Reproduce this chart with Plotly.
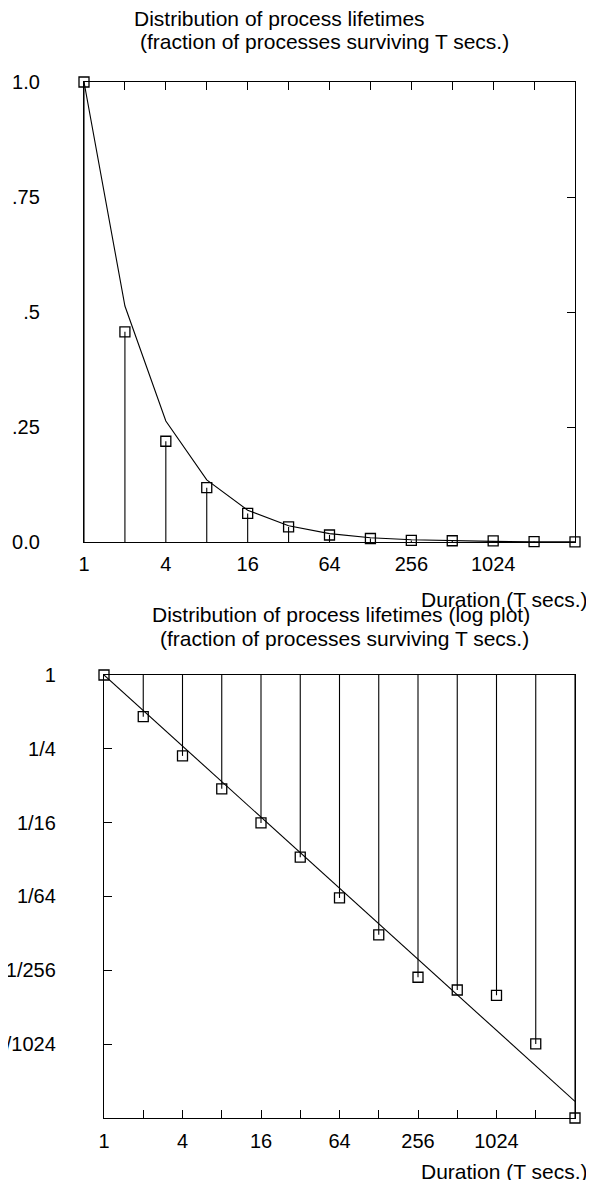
import math
import plotly.graph_objects as go

# ---- data ----
durations = [1, 2, 4, 8, 16, 32, 64, 128, 256, 512, 1024, 2048, 4096]
surviving = [1.0, 0.457, 0.219, 0.118, 0.0622, 0.0327, 0.0152, 0.0076,
             0.00343, 0.0027, 0.00244, 0.00098, 0.000244]
fit_curve = [1.0, 0.513, 0.263, 0.135, 0.0692, 0.0355, 0.0182, 0.00935,
             0.0048, 0.00246, 0.00126, 0.000648, 0.000333]

x_tick_vals = [1, 4, 16, 64, 256, 1024]
x_tick_text = ["1", "4", "16", "64", "256", "1024"]
lin_tick_vals = [0, 0.25, 0.5, 0.75, 1.0]
lin_tick_text = ["0.0", ".25", ".5", ".75", "1.0"]
lin_inner_ticks = [0.25, 0.5, 0.75]
log_tick_vals = [1, 1 / 4, 1 / 16, 1 / 64, 1 / 256, 1 / 1024]
log_tick_text = ["1", "1/4", "1/16", "1/64", "1/256", "1/1024"]

title_top = ["Distribution of process lifetimes",
             "(fraction of processes surviving T secs.)"]
title_bottom = ["Distribution of process lifetimes (log plot)",
                "(fraction of processes surviving T secs.)"]
x_title = "Duration (T secs.)"

FONT = "Liberation Sans, Arial, Helvetica, sans-serif"
OFF = 8                      # the page body has an 8px margin
W, H = 594 - OFF, 1180 - OFF
BLACK = "#000000"


def px(x):
    return (x - OFF) / W


def py(y):
    return 1 - (y - OFF) / H


# impulse segments built from the data lists
top_ix, top_iy, bot_ix, bot_iy = [], [], [], []
for d, v in zip(durations, surviving):
    top_ix += [d, d, None]
    top_iy += [0, v, None]
    bot_ix += [d, d, None]
    bot_iy += [1, v, None]

fig = go.Figure()
line_style = dict(color=BLACK, width=1.1)
marker_style = dict(symbol="square-open", size=10, color=BLACK,
                    line=dict(color=BLACK, width=1.3))

# top (linear) chart
fig.add_trace(go.Scatter(x=top_ix, y=top_iy, mode="lines", line=line_style,
                         xaxis="x", yaxis="y", cliponaxis=False, hoverinfo="skip"))
fig.add_trace(go.Scatter(x=durations, y=fit_curve, mode="lines", line=line_style,
                         xaxis="x3", yaxis="y3", cliponaxis=False))
fig.add_trace(go.Scatter(x=durations, y=surviving, mode="markers", marker=marker_style,
                         xaxis="x", yaxis="y", cliponaxis=False))
# bottom (log) chart
fig.add_trace(go.Scatter(x=bot_ix, y=bot_iy, mode="lines", line=line_style,
                         xaxis="x2", yaxis="y2", cliponaxis=False, hoverinfo="skip"))
fig.add_trace(go.Scatter(x=[durations[0], durations[-1]], y=[fit_curve[0], fit_curve[-1]],
                         mode="lines", line=line_style,
                         xaxis="x4", yaxis="y4", cliponaxis=False))
fig.add_trace(go.Scatter(x=durations, y=surviving, mode="markers", marker=marker_style,
                         xaxis="x2", yaxis="y2", cliponaxis=False))

xr = [0, math.log10(durations[-1])]
yr_log = [math.log10(surviving[-1]), 0]
tickfont = dict(family=FONT, size=20, color=BLACK)
axis_common = dict(showline=True, linecolor=BLACK, linewidth=1.3, showgrid=False,
                   zeroline=False, tickcolor=BLACK, tickwidth=1.3, ticklen=8,
                   tickfont=tickfont, fixedrange=True, automargin=False)

top_dom_x = [px(84), px(575)]
top_dom_y = [py(542), py(82)]
bot_dom_x = [px(104), px(575)]
bot_dom_y = [py(1118), py(675)]

fig.update_layout(
    width=W, height=H, autosize=False,
    margin=dict(l=0, r=0, t=0, b=0, pad=0, autoexpand=False),
    paper_bgcolor="white", plot_bgcolor="white",
    showlegend=False,
    font=dict(family=FONT, size=20, color=BLACK),
    # top chart
    xaxis=dict(axis_common, domain=top_dom_x, anchor="y", type="log", range=xr,
               ticks="", tickvals=x_tick_vals, ticktext=x_tick_text,
               ticklabelstandoff=4),
    xaxis3=dict(axis_common, overlaying="x", anchor="y3", side="top", type="log",
                range=xr, ticks="inside", tickvals=durations, showticklabels=False),
    yaxis=dict(axis_common, domain=top_dom_y, anchor="x", range=[0, 1],
               ticks="", tickvals=lin_tick_vals, ticktext=lin_tick_text,
               ticklabelstandoff=39),
    yaxis3=dict(axis_common, overlaying="y", anchor="x3", side="right", range=[0, 1],
                ticks="inside", tickvals=lin_inner_ticks, showticklabels=False),
    # bottom chart
    xaxis2=dict(axis_common, domain=bot_dom_x, anchor="y2", type="log", range=xr,
                ticks="inside", tickvals=durations,
                ticktext=[str(d) if d in x_tick_vals else "" for d in durations],
                ticklabelstandoff=5),
    xaxis4=dict(axis_common, overlaying="x2", anchor="y4", side="top", type="log",
                range=xr, ticks="", showticklabels=False),
    yaxis2=dict(axis_common, domain=bot_dom_y, anchor="x2", type="log", range=yr_log,
                ticks="inside", tickvals=log_tick_vals, ticktext=log_tick_text,
                ticklabelstandoff=43),
    yaxis4=dict(axis_common, overlaying="y2", anchor="x4", side="right", type="log",
                range=yr_log, ticks="", showticklabels=False),
)

tfont = dict(family=FONT, size=21, color=BLACK)
ann = [
    dict(text=title_top[0], x=px(132), y=py(19)),
    dict(text=title_top[1], x=px(138), y=py(42)),
    dict(text=title_bottom[0], x=px(150), y=py(614)),
    dict(text=title_bottom[1], x=px(158), y=py(638)),
]
for a in ann:
    fig.add_annotation(xref="paper", yref="paper", xanchor="left", yanchor="middle",
                       showarrow=False, font=tfont, **a)
for yy in (599, 1171):
    fig.add_annotation(text=x_title, xref="paper", yref="paper", x=px(590), y=py(yy),
                       xanchor="right", yanchor="middle", showarrow=False, font=tfont)

fig.write_html("out.html")
